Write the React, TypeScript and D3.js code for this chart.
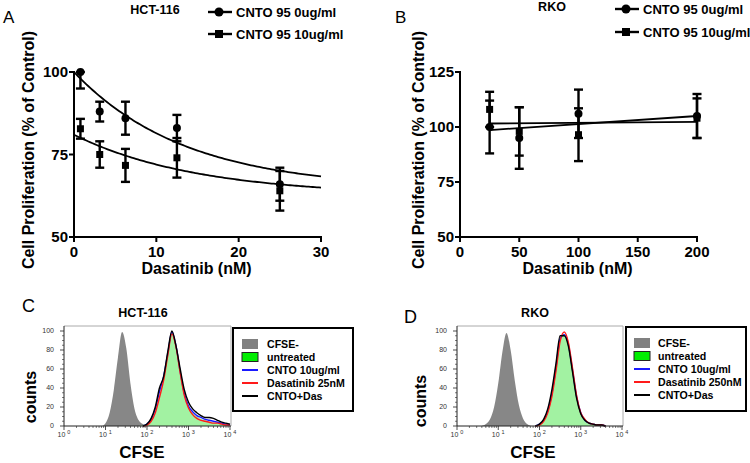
import React from 'react';
import * as d3 from 'd3';

// ---------- Panel A (HCT-116) ----------
const A_DOSES = [0.78, 3.125, 6.25, 12.5, 25];
const A_CTRL_MEAN = [100, 88, 86, 83, 66];
const A_CTRL_ERR = [5, 3, 5, 4, 5];
const A_CNTO_MEAN = [82.8, 75, 71.7, 74, 64];
const A_CNTO_ERR = [3, 4, 5, 6, 6];
// one-phase decay fit: [top, plateau, k]
const A_CTRL_FIT = [100, 64.5, 0.074];
const A_CNTO_FIT = [81, 62.5, 0.067];
const A_X_TICKS = [0, 10, 20, 30];
const A_Y_TICKS = [50, 75, 100];

// ---------- Panel B (RKO) ----------
const B_DOSES = [25, 50, 100, 200];
const B_CTRL_MEAN = [100, 95, 106, 105];
const B_CTRL_ERR = [12, 14, 11, 10];
const B_CNTO_MEAN = [108, 98, 96.5, 104];
const B_CNTO_ERR = [8, 11, 12, 9];
// linear fit: [value at first dose, value at last dose]
const B_CTRL_FIT = [98.6, 105];
const B_CNTO_FIT = [101.6, 102.3];
const B_X_TICKS = [0, 50, 100, 150, 200];
const B_Y_TICKS = [50, 75, 100, 125];

const LEGEND_TOP = ['CNTO 95 0ug/ml', 'CNTO 95 10ug/ml'];

// ---------- Panel C histograms (log10 CFSE, counts %) ----------
const C_GRAY: [number, number][] = [[0.8, 0], [0.9, 0], [1.0, 3], [1.1, 14], [1.2, 38], [1.3, 72], [1.4, 99], [1.5, 82], [1.6, 45], [1.7, 18], [1.8, 6], [1.9, 2], [2.0, 0]];
const C_GREEN: [number, number][] = [[1.8, 0], [1.9, 1], [2.0, 3], [2.1, 7], [2.2, 16], [2.3, 32], [2.4, 50], [2.5, 75], [2.6, 98], [2.7, 85], [2.8, 58], [2.9, 35], [3.0, 21], [3.1, 14], [3.2, 10], [3.3, 8], [3.4, 6], [3.5, 5], [3.6, 4], [3.7, 3], [3.8, 2], [3.9, 1], [4.0, 1]];
const C_BLUE: [number, number][] = [[1.9, 0], [2.0, 2], [2.1, 7], [2.2, 18], [2.3, 36], [2.4, 52], [2.5, 76], [2.6, 99], [2.7, 84], [2.8, 57], [2.9, 34], [3.0, 21], [3.1, 15], [3.2, 11], [3.3, 9], [3.4, 7], [3.5, 6], [3.6, 5], [3.7, 4], [3.8, 3], [3.9, 2], [4.0, 1]];
const C_RED: [number, number][] = [[1.9, 0], [2.0, 1], [2.1, 5], [2.2, 14], [2.3, 30], [2.4, 48], [2.5, 74], [2.6, 97], [2.7, 83], [2.8, 56], [2.9, 32], [3.0, 19], [3.1, 12], [3.2, 8], [3.3, 6], [3.4, 5], [3.5, 4], [3.6, 3], [3.7, 3], [3.8, 2], [3.9, 1], [4.0, 1]];
const C_BLACK: [number, number][] = [[1.9, 0], [2.0, 2], [2.1, 8], [2.2, 20], [2.3, 40], [2.4, 52], [2.5, 78], [2.6, 100], [2.7, 84], [2.8, 60], [2.9, 38], [3.0, 25], [3.1, 18], [3.2, 14], [3.3, 11], [3.4, 9], [3.5, 9], [3.6, 8], [3.7, 6], [3.8, 4], [3.9, 3], [4.0, 2]];

// ---------- Panel D histograms ----------
const D_GRAY: [number, number][] = [[0.6, 0], [0.7, 2], [0.8, 7], [0.9, 20], [1.0, 45], [1.1, 78], [1.2, 98], [1.3, 80], [1.4, 48], [1.5, 22], [1.6, 8], [1.7, 2], [1.8, 0]];
const D_GREEN: [number, number][] = [[1.9, 0], [2.0, 2], [2.1, 6], [2.2, 15], [2.3, 33], [2.4, 60], [2.5, 90], [2.6, 97], [2.7, 85], [2.8, 58], [2.9, 30], [3.0, 13], [3.1, 6], [3.2, 3], [3.3, 2], [3.4, 1], [3.5, 1], [3.6, 0]];
const D_BLUE: [number, number][] = [[1.9, 0], [2.0, 2], [2.1, 6], [2.2, 16], [2.3, 34], [2.4, 62], [2.5, 92], [2.6, 96], [2.7, 86], [2.8, 59], [2.9, 31], [3.0, 14], [3.1, 6], [3.2, 3], [3.3, 2], [3.4, 1], [3.5, 1], [3.6, 0]];
const D_RED: [number, number][] = [[1.9, 0], [2.0, 1], [2.1, 5], [2.2, 14], [2.3, 31], [2.4, 58], [2.5, 89], [2.6, 99], [2.7, 88], [2.8, 61], [2.9, 32], [3.0, 14], [3.1, 7], [3.2, 3], [3.3, 2], [3.4, 1], [3.5, 1], [3.6, 0]];
const D_BLACK: [number, number][] = [[1.9, 0], [2.0, 2], [2.1, 7], [2.2, 18], [2.3, 38], [2.4, 66], [2.5, 95], [2.6, 95], [2.7, 84], [2.8, 57], [2.9, 29], [3.0, 13], [3.1, 6], [3.2, 3], [3.3, 2], [3.4, 1], [3.5, 1], [3.6, 0]];

const HIST_Y_TICKS = [0, 20, 40, 60, 80, 100];
const HIST_X_DECADES = [0, 1, 2, 3, 4];
const C_LEGEND = ['CFSE-', 'untreated', 'CNTO 10ug/ml', 'Dasatinib 25nM', 'CNTO+Das'];
const D_LEGEND = ['CFSE-', 'untreated', 'CNTO 10ug/ml', 'Dasatinib 250nM', 'CNTO+Das'];

const FONT = "'Liberation Sans', Arial, Helvetica, sans-serif";

type DoseProps = {
  xDomain: [number, number]; xRange: [number, number];
  yDomain: [number, number]; yRange: [number, number];
  xTicks: number[]; yTicks: number[];
  doses: number[];
  ctrlMean: number[]; ctrlErr: number[];
  cntoMean: number[]; cntoErr: number[];
  ctrlCurve: [number, number][]; cntoCurve: [number, number][];
  letter: string; letterX: number;
  title: string; titleX: number; titleY: number;
  legX: number; legY: number[];
  yTitleX: number;
};

function DosePanel(p: DoseProps) {
  const x = d3.scaleLinear().domain(p.xDomain).range(p.xRange);
  const y = d3.scaleLinear().domain(p.yDomain).range(p.yRange);
  const line = d3.line<[number, number]>().x(d => x(d[0])).y(d => y(d[1]));
  const axX = p.xRange[0];
  const axY = p.yRange[0];
  const clip = (v: number) => Math.max(p.yDomain[0], Math.min(p.yDomain[1], v));
  const errBars = (means: number[], errs: number[]) =>
    p.doses.map((d, i) => {
      const cx = x(d);
      const top = y(clip(means[i] + errs[i]));
      const bot = y(clip(means[i] - errs[i]));
      return (
        <g key={i} stroke="#000" strokeWidth={2.4}>
          <line x1={cx} x2={cx} y1={top} y2={bot} />
          <line x1={cx - 4.5} x2={cx + 4.5} y1={top} y2={top} />
          <line x1={cx - 4.5} x2={cx + 4.5} y1={bot} y2={bot} />
        </g>
      );
    });
  const xMid = (p.xRange[0] + p.xRange[1]) / 2;
  return (
    <g fontFamily={FONT}>
      <text x={p.letterX} y={23} fontSize={17}>{p.letter}</text>
      <text x={p.titleX} y={p.titleY} fontSize={12.5} fontWeight="bold" textAnchor="middle">{p.title}</text>
      {LEGEND_TOP.map((t, i) => (
        <g key={t}>
          <line x1={p.legX} x2={p.legX + 24} y1={p.legY[i]} y2={p.legY[i]} stroke="#000" strokeWidth={2.4} />
          {i === 0
            ? <circle cx={p.legX + 11} cy={p.legY[i]} r={4.5} fill="#000" />
            : <rect x={p.legX + 7} y={p.legY[i] - 4} width={8} height={8} fill="#000" />}
          <text x={p.legX + 28} y={p.legY[i]} dy="0.35em" fontSize={13} fontWeight="bold">{t}</text>
        </g>
      ))}
      <line x1={axX} x2={axX} y1={p.yRange[1] - 1} y2={axY + 1} stroke="#000" strokeWidth={2} />
      <line x1={axX - 1} x2={p.xRange[1] + 1} y1={axY} y2={axY} stroke="#000" strokeWidth={2} />
      {p.yTicks.map(t => (
        <g key={t}>
          <line x1={axX - 5} x2={axX} y1={y(t)} y2={y(t)} stroke="#000" strokeWidth={2} />
          <text x={axX - 6} y={y(t)} dy="0.36em" textAnchor="end" fontSize={15} fontWeight="bold">{t}</text>
        </g>
      ))}
      {p.xTicks.map(t => (
        <g key={t}>
          <line x1={x(t)} x2={x(t)} y1={axY} y2={axY + 5} stroke="#000" strokeWidth={2} />
          <text x={x(t)} y={257} textAnchor="middle" fontSize={15} fontWeight="bold">{t}</text>
        </g>
      ))}
      <text x={xMid - 1} y={274} textAnchor="middle" fontSize={16} fontWeight="bold">Dasatinib (nM)</text>
      <text transform={`translate(${p.yTitleX},150) rotate(-90)`} textAnchor="middle" dy="0.35em" fontSize={16} fontWeight="bold">Cell Proliferation (% of Control)</text>
      <path d={line(p.ctrlCurve) || ''} fill="none" stroke="#000" strokeWidth={1.8} />
      <path d={line(p.cntoCurve) || ''} fill="none" stroke="#000" strokeWidth={1.8} />
      {errBars(p.ctrlMean, p.ctrlErr)}
      {errBars(p.cntoMean, p.cntoErr)}
      {p.doses.map((d, i) => <circle key={'c' + i} cx={x(d)} cy={y(p.ctrlMean[i])} r={4} fill="#000" />)}
      {p.doses.map((d, i) => <rect key={'s' + i} x={x(d) - 3.5} y={y(p.cntoMean[i]) - 3.5} width={7} height={7} fill="#000" />)}
    </g>
  );
}

type HistProps = {
  xRange: [number, number]; frameRight: number;
  gray: [number, number][]; green: [number, number][];
  blue: [number, number][]; red: [number, number][]; black: [number, number][];
  letter: string; letterX: number; letterY: number;
  title: string; titleX: number;
  countsX: number; countsY: number; cfseX: number;
  legBox: [number, number, number, number];
  legSwX: number; legTextX: number; legRows: number[]; legLabels: string[];
};

function HistPanel(p: HistProps) {
  const x = d3.scaleLog().domain([1, 10000]).range(p.xRange);
  const y = d3.scaleLinear().domain([0, 100]).range([426, 331]);
  const bottom = y(0);
  const top = 326;
  const area = d3.area<[number, number]>()
    .x(d => x(Math.pow(10, d[0]))).y0(bottom).y1(d => y(d[1])).curve(d3.curveMonotoneX);
  const line = d3.line<[number, number]>()
    .x(d => x(Math.pow(10, d[0]))).y(d => y(d[1])).curve(d3.curveMonotoneX);
  const left = p.xRange[0];
  const minorX: number[] = [];
  for (let e = 0; e < 4; e++) for (let m = 2; m <= 9; m++) minorX.push(m * Math.pow(10, e));
  const minorY = d3.range(0, 101, 5).filter(v => v % 20 !== 0);
  const [bx, by, bw, bh] = p.legBox;
  return (
    <g fontFamily={FONT}>
      <text x={p.letterX} y={p.letterY} fontSize={18}>{p.letter}</text>
      <text x={p.titleX} y={317} fontSize={12.5} fontWeight="bold" textAnchor="middle">{p.title}</text>
      <line x1={left} x2={p.frameRight} y1={top} y2={top} stroke="#aaa" strokeWidth={1} />
      <line x1={p.frameRight} x2={p.frameRight} y1={top} y2={bottom} stroke="#aaa" strokeWidth={1} />
      <path d={area(p.gray) || ''} fill="#878787" />
      <path d={area(p.green) || ''} fill="#a2f2a2" />
      <path d={line(p.blue) || ''} fill="none" stroke="#1a1aff" strokeWidth={1.4} />
      <path d={line(p.red) || ''} fill="none" stroke="#ff1a1a" strokeWidth={1.4} />
      <path d={line(p.black) || ''} fill="none" stroke="#000" strokeWidth={1.4} />
      <line x1={left} x2={left} y1={top} y2={bottom} stroke="#222" strokeWidth={1} />
      <line x1={left} x2={p.frameRight} y1={bottom} y2={bottom} stroke="#222" strokeWidth={1} />
      {HIST_Y_TICKS.map(t => (
        <g key={t}>
          <line x1={left - 4} x2={left} y1={y(t)} y2={y(t)} stroke="#222" strokeWidth={0.8} />
          <text x={left - 10} y={y(t)} dy="0.35em" textAnchor="end" fontSize={7} fill="#333">{t}</text>
        </g>
      ))}
      {minorY.map(t => <line key={t} x1={left - 2} x2={left} y1={y(t)} y2={y(t)} stroke="#222" strokeWidth={0.6} />)}
      {HIST_X_DECADES.map(e => (
        <g key={e}>
          <line x1={x(Math.pow(10, e))} x2={x(Math.pow(10, e))} y1={bottom} y2={bottom + 4} stroke="#222" strokeWidth={0.8} />
          <text x={x(Math.pow(10, e))} y={bottom + 11} textAnchor="middle" fontSize={7} fill="#333">
            10<tspan dx={2} dy={-3} fontSize={5.5}>{e}</tspan>
          </text>
        </g>
      ))}
      {minorX.map(v => <line key={v} x1={x(v)} x2={x(v)} y1={bottom} y2={bottom + 2} stroke="#222" strokeWidth={0.6} />)}
      <text transform={`translate(${p.countsX},${p.countsY}) rotate(-90)`} textAnchor="middle" dy="0.35em" fontSize={16} fontWeight="bold">counts</text>
      <text x={p.cfseX} y={458} textAnchor="middle" fontSize={17} fontWeight="bold">CFSE</text>
      <rect x={bx} y={by} width={bw} height={bh} fill="#fff" stroke="#000" strokeWidth={2} />
      {p.legLabels.map((t, i) => {
        const cy = p.legRows[i];
        let sw;
        if (i === 0) sw = <rect x={p.legSwX} y={cy - 5} width={16} height={10} fill="#808080" />;
        else if (i === 1) sw = <rect x={p.legSwX} y={cy - 4.5} width={16} height={9} fill="#00ee00" stroke="#222" strokeWidth={1} />;
        else sw = <line x1={p.legSwX} x2={p.legSwX + 16} y1={cy} y2={cy} stroke={['#1a1aff', '#ff1a1a', '#000'][i - 2]} strokeWidth={2} />;
        return (
          <g key={t}>
            {sw}
            <text x={p.legTextX} y={cy} dy="0.35em" fontSize={10.6} fontWeight="bold">{t}</text>
          </g>
        );
      })}
    </g>
  );
}

const expFit = (f: number[], xs: number[]): [number, number][] =>
  xs.map(v => [v, f[1] + (f[0] - f[1]) * Math.exp(-f[2] * v)]);

export default function App() {
  const aGrid = d3.range(0, 30.001, 0.25);
  const ctrlA = expFit(A_CTRL_FIT, aGrid);
  const cntoA = expFit(A_CNTO_FIT, aGrid);
  const bEnds = [B_DOSES[0], B_DOSES[B_DOSES.length - 1]];
  const ctrlB: [number, number][] = [[bEnds[0], B_CTRL_FIT[0]], [bEnds[1], B_CTRL_FIT[1]]];
  const cntoB: [number, number][] = [[bEnds[0], B_CNTO_FIT[0]], [bEnds[1], B_CNTO_FIT[1]]];
  return (
    <svg width={750} height={463} style={{ position: 'absolute', left: 0, top: 0, background: '#fff' }}>
      <rect width={750} height={463} fill="#fff" />
      <DosePanel
        xDomain={[0, 30]} xRange={[74, 321]} yDomain={[50, 100]} yRange={[237, 72]}
        xTicks={A_X_TICKS} yTicks={A_Y_TICKS} doses={A_DOSES}
        ctrlMean={A_CTRL_MEAN} ctrlErr={A_CTRL_ERR} cntoMean={A_CNTO_MEAN} cntoErr={A_CNTO_ERR}
        ctrlCurve={ctrlA} cntoCurve={cntoA}
        letter="A" letterX={3} title="HCT-116" titleX={155} titleY={14}
        legX={208} legY={[12, 34]} yTitleX={28}
      />
      <DosePanel
        xDomain={[0, 200]} xRange={[460, 697]} yDomain={[50, 125]} yRange={[237, 72]}
        xTicks={B_X_TICKS} yTicks={B_Y_TICKS} doses={B_DOSES}
        ctrlMean={B_CTRL_MEAN} ctrlErr={B_CTRL_ERR} cntoMean={B_CNTO_MEAN} cntoErr={B_CNTO_ERR}
        ctrlCurve={ctrlB} cntoCurve={cntoB}
        letter="B" letterX={395} title="RKO" titleX={552} titleY={11}
        legX={615} legY={[9, 32]} yTitleX={418}
      />
      <HistPanel
        xRange={[64, 230]} frameRight={231}
        gray={C_GRAY} green={C_GREEN} blue={C_BLUE} red={C_RED} black={C_BLACK}
        letter="C" letterX={22} letterY={312} title="HCT-116" titleX={143}
        countsX={30} countsY={397} cfseX={142}
        legBox={[233, 328, 120, 83]} legSwX={242} legTextX={267}
        legRows={[344, 357, 370, 383, 396]} legLabels={C_LEGEND}
      />
      <HistPanel
        xRange={[457, 622]} frameRight={623}
        gray={D_GRAY} green={D_GREEN} blue={D_BLUE} red={D_RED} black={D_BLACK}
        letter="D" letterX={404} letterY={323} title="RKO" titleX={535}
        countsX={420} countsY={401} cfseX={533}
        legBox={[626, 327, 120, 84]} legSwX={634} legTextX={658}
        legRows={[343, 356, 369, 382, 395]} legLabels={D_LEGEND}
      />
    </svg>
  );
}
